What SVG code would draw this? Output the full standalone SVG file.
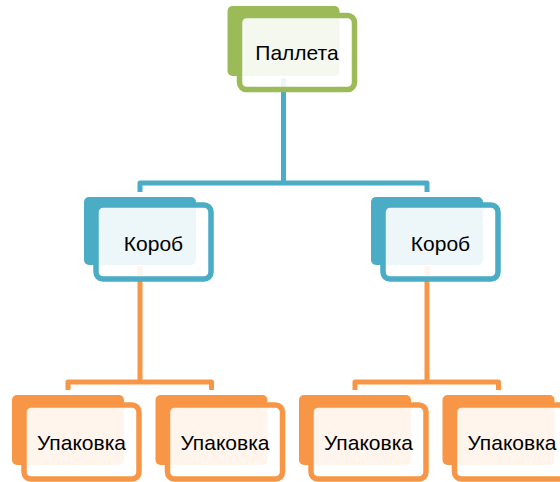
<svg xmlns="http://www.w3.org/2000/svg" width="560" height="482" viewBox="0 0 560 482">
<style>
.back{stroke:none}
.front{fill:#ffffff;fill-opacity:0.9;stroke-width:5.5}
.lbl{font-family:"Liberation Sans",Arial,sans-serif;font-size:21px;fill:#000000;text-anchor:middle}
.conn{fill:none;stroke-width:5;stroke-linejoin:round}
.g .back{fill:#9bbb59}.g .front{stroke:#9bbb59}
.b .back{fill:#4bacc6}.b .front{stroke:#4bacc6}
.o .back{fill:#f79646}.o .front{stroke:#f79646}
</style>
<rect width="560" height="482" fill="#ffffff"/>
<g id="connectors">
<path class="conn" stroke="#4bacc6" d="M283.5,78 V183 M140,192 V183 H427 V192"/>
<path class="conn" stroke="#f79646" d="M140,266 V382 M68,390 V382 H211.5 V390"/>
<path class="conn" stroke="#f79646" d="M427,266 V382 M355,390 V382 H498.5 V390"/>
</g>
<g id="node-pallet" class="g">
<rect class="back" x="227.5" y="6" width="112" height="70" rx="5"/>
<rect class="front" x="239.5" y="15.5" width="115" height="74" rx="7"/>
<text class="lbl" x="297" y="60">Паллета</text>
</g>
<g id="node-box1" class="b">
<rect class="back" x="84" y="197" width="112" height="68" rx="5"/>
<rect class="front" x="96" y="205" width="115" height="74" rx="7"/>
<text class="lbl" x="153.5" y="251">Короб</text>
</g>
<g id="node-box2" class="b">
<rect class="back" x="371" y="197" width="112" height="68" rx="5"/>
<rect class="front" x="383" y="205" width="115" height="74" rx="7"/>
<text class="lbl" x="440.5" y="251">Короб</text>
</g>
<g id="node-pack1" class="o">
<rect class="back" x="12" y="395" width="112" height="70" rx="5"/>
<rect class="front" x="24" y="405" width="115" height="74" rx="7"/>
<text class="lbl" x="81.5" y="450">Упаковка</text>
</g>
<g id="node-pack2" class="o">
<rect class="back" x="155.5" y="395" width="112" height="70" rx="5"/>
<rect class="front" x="167.5" y="405" width="115" height="74" rx="7"/>
<text class="lbl" x="225" y="450">Упаковка</text>
</g>
<g id="node-pack3" class="o">
<rect class="back" x="299" y="395" width="112" height="70" rx="5"/>
<rect class="front" x="311" y="405" width="115" height="74" rx="7"/>
<text class="lbl" x="368.5" y="450">Упаковка</text>
</g>
<g id="node-pack4" class="o">
<rect class="back" x="442.5" y="395" width="112" height="70" rx="5"/>
<rect class="front" x="454.5" y="405" width="115" height="74" rx="7"/>
<text class="lbl" x="512" y="450">Упаковка</text>
</g>
</svg>
